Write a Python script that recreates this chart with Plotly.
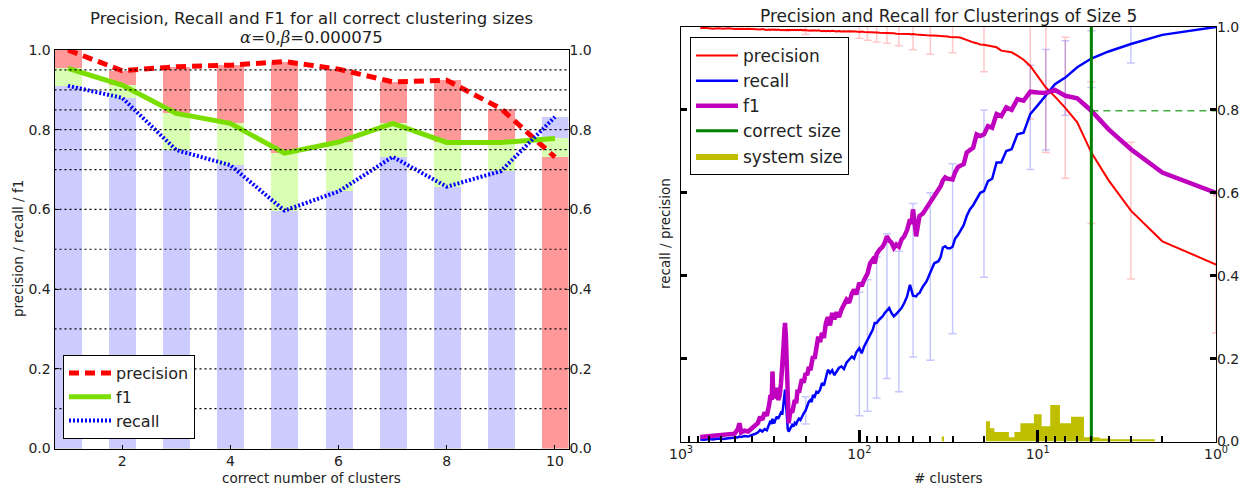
import plotly.graph_objects as go

# ---------------- Left chart data ----------------
K = [1, 2, 3, 4, 5, 6, 7, 8, 9, 10]
PREC_K = [1.000, 0.948, 0.958, 0.962, 0.971, 0.952, 0.920, 0.924, 0.853, 0.731]
F1_K = [0.954, 0.912, 0.841, 0.816, 0.741, 0.769, 0.816, 0.768, 0.768, 0.778]
REC_K = [0.910, 0.880, 0.749, 0.711, 0.597, 0.645, 0.732, 0.657, 0.696, 0.832]
GRID = [0.1, 0.2, 0.3, 0.4, 0.5, 0.6, 0.7, 0.75, 0.8, 0.85, 0.9, 0.95]
Y_TICKS = [0.0, 0.2, 0.4, 0.6, 0.8, 1.0]
K_TICKS = [2, 4, 6, 8, 10]

# ---------------- Right chart data ----------------
N_CLUSTERS = [780, 740, 700, 660, 620, 580, 540, 500, 480, 470, 460, 440, 420, 400, 385, 370,
              360, 350, 340, 330, 320, 315, 310, 307, 304, 300, 296, 290, 285, 280, 275, 270,
              266, 263, 261, 258, 255, 252, 249, 246, 242, 238, 234, 230, 226, 222, 218, 214,
              210, 205, 200, 196, 192, 188, 185, 182, 178, 174, 170, 166, 162, 158, 154, 150,
              146, 142, 138, 134, 130, 126, 122, 118, 114, 110, 107, 104, 100, 97, 94, 90,
              87, 84, 82, 80, 77, 74, 72, 70, 68, 66, 64, 62, 60, 58, 56, 54,
              52, 51, 50, 48, 47, 46, 44, 42, 40, 38, 36, 35, 34, 33, 32, 31,
              30, 29, 28, 27, 26, 25, 24, 23, 22, 21, 20, 19, 18, 17, 16, 15,
              14, 13, 12, 11, 10, 9, 8, 7, 6, 5, 4, 3, 2, 1]
PRECISION = [0.997, 0.998, 0.997, 0.996, 0.997, 0.996, 0.997, 0.995, 0.996, 0.995, 0.996, 0.995, 0.996, 0.995, 0.994, 0.995,
             0.994, 0.995, 0.994, 0.993, 0.994, 0.993, 0.994, 0.993, 0.994, 0.993, 0.994, 0.993, 0.994, 0.993, 0.992, 0.993,
             0.992, 0.993, 0.992, 0.993, 0.992, 0.993, 0.992, 0.993, 0.992, 0.993, 0.992, 0.993, 0.992, 0.993, 0.992, 0.993,
             0.992, 0.993, 0.992, 0.991, 0.992, 0.991, 0.992, 0.991, 0.992, 0.991, 0.992, 0.991, 0.990, 0.991, 0.990, 0.991,
             0.990, 0.991, 0.990, 0.989, 0.990, 0.989, 0.990, 0.989, 0.990, 0.989, 0.988, 0.989, 0.988, 0.989, 0.988, 0.988,
             0.987, 0.988, 0.987, 0.987, 0.986, 0.986, 0.985, 0.986, 0.985, 0.985, 0.985, 0.984, 0.984, 0.984, 0.983, 0.983,
             0.983, 0.982, 0.983, 0.982, 0.982, 0.981, 0.981, 0.980, 0.980, 0.979, 0.979, 0.978, 0.978, 0.977, 0.977, 0.976,
             0.976, 0.975, 0.975, 0.974, 0.971, 0.968, 0.966, 0.963, 0.961, 0.958, 0.957, 0.955, 0.952, 0.951, 0.943, 0.941,
             0.939, 0.931, 0.921, 0.906, 0.882, 0.854, 0.832, 0.805, 0.770, 0.697, 0.630, 0.557, 0.483, 0.427]
RECALL = [0.005, 0.004, 0.006, 0.005, 0.007, 0.006, 0.008, 0.009, 0.010, 0.012, 0.011, 0.013, 0.012, 0.016, 0.018, 0.022,
          0.028, 0.024, 0.030, 0.027, 0.040, 0.050, 0.042, 0.055, 0.048, 0.044, 0.052, 0.060, 0.055, 0.065, 0.070, 0.068,
          0.090, 0.110, 0.125, 0.095, 0.060, 0.030, 0.024, 0.030, 0.034, 0.040, 0.036, 0.045, 0.042, 0.050, 0.055, 0.052,
          0.060, 0.068, 0.075, 0.085, 0.096, 0.100, 0.095, 0.112, 0.108, 0.120, 0.118, 0.125, 0.141, 0.135, 0.155, 0.173,
          0.165, 0.172, 0.160, 0.170, 0.178, 0.181, 0.175, 0.190, 0.197, 0.205, 0.200, 0.215, 0.225, 0.213, 0.229, 0.245,
          0.255, 0.270, 0.286, 0.286, 0.295, 0.302, 0.310, 0.315, 0.322, 0.310, 0.302, 0.308, 0.314, 0.322, 0.334, 0.350,
          0.378, 0.362, 0.352, 0.350, 0.356, 0.358, 0.374, 0.386, 0.407, 0.430, 0.435, 0.445, 0.468, 0.471, 0.466, 0.466,
          0.470, 0.490, 0.498, 0.510, 0.522, 0.544, 0.560, 0.570, 0.584, 0.600, 0.604, 0.628, 0.634, 0.673, 0.673, 0.701,
          0.705, 0.741, 0.745, 0.790, 0.811, 0.836, 0.862, 0.878, 0.903, 0.924, 0.941, 0.959, 0.981, 1.000]
F1 = [0.011, 0.012, 0.013, 0.012, 0.015, 0.014, 0.017, 0.019, 0.030, 0.044, 0.022, 0.026, 0.024, 0.032, 0.036, 0.045,
      0.060, 0.052, 0.070, 0.062, 0.090, 0.112, 0.100, 0.169, 0.120, 0.125, 0.104, 0.130, 0.100, 0.110, 0.140, 0.180,
      0.230, 0.270, 0.286, 0.250, 0.150, 0.070, 0.044, 0.060, 0.075, 0.070, 0.084, 0.100, 0.092, 0.125, 0.118, 0.135,
      0.150, 0.142, 0.165, 0.160, 0.180, 0.172, 0.197, 0.205, 0.200, 0.225, 0.253, 0.240, 0.262, 0.250, 0.286, 0.300,
      0.280, 0.310, 0.295, 0.312, 0.300, 0.318, 0.330, 0.342, 0.335, 0.358, 0.366, 0.355, 0.383, 0.375, 0.390, 0.405,
      0.430, 0.439, 0.430, 0.452, 0.463, 0.470, 0.480, 0.495, 0.485, 0.480, 0.467, 0.475, 0.470, 0.487, 0.495, 0.510,
      0.536, 0.525, 0.560, 0.495, 0.520, 0.544, 0.550, 0.564, 0.580, 0.592, 0.610, 0.616, 0.630, 0.637, 0.634, 0.632,
      0.632, 0.650, 0.662, 0.666, 0.669, 0.697, 0.703, 0.709, 0.741, 0.737, 0.741, 0.761, 0.757, 0.790, 0.785, 0.806,
      0.800, 0.826, 0.822, 0.844, 0.842, 0.841, 0.848, 0.834, 0.828, 0.798, 0.753, 0.705, 0.649, 0.600]

ERR_AT = [200, 100, 90, 80, 70, 60, 50, 40, 30, 20, 11, 9, 7, 5, 3, 1]
PREC_ERR = [0.010, 0.015, 0.020, 0.023, 0.025, 0.029, 0.038, 0.046, 0.038, 0.065, 0.128, 0.157, 0.170, 0.171, 0.165, 0.165]
REC_ERR_PLUS = [0.033, 0.135, 0.145, 0.159, 0.186, 0.145, 0.222, 0.193, 0.200, 0.196, 0.118, 0.110, 0.089, 0.067, 0.046, 0.0]
REC_ERR_MINUS = [0.033, 0.163, 0.172, 0.181, 0.163, 0.194, 0.148, 0.211, 0.210, 0.208, 0.134, 0.133, 0.091, 0.070, 0.046, 0.0]

HIST_EDGES = [34.5, 33.5, 19.5, 18.5, 17.5, 14.5, 13.5, 12.5, 10.5, 9.5, 8.5, 7.5, 6.5, 5.5, 4.5, 3.9, 2.2]
HIST_HEIGHTS = [0.012, 0.0, 0.049, 0.032, 0.023, 0.010, 0.023, 0.044, 0.066, 0.037, 0.088, 0.044, 0.060, 0.010, 0.007, 0.0056]

CORRECT_SIZE = 5
LOG_MAJOR = [1000, 100, 10, 1]
LOG_MAJOR_TEXT = ["10<sup>3</sup>", "10<sup>2</sup>", "10<sup>1</sup>", "10<sup>0</sup>"]
LOG_MINOR = [m * d for d in (1, 10, 100) for m in range(2, 10)]

# ---------------- styles ----------------
C_PREC_BAR = "rgb(255,153,153)"
C_F1_BAR = "rgb(216,255,178)"
C_REC_BAR = "rgb(204,204,255)"
FONT = "DejaVu Sans"
W, H = 1253, 490


def px_x(p):
    return p / W


def px_y(p):
    return 1 - p / H


fig = go.Figure()

# ---- left: layered bars (tallest behind, shortest in front) ----
layers = []
for i in range(len(K)):
    items = [(PREC_K[i], C_PREC_BAR), (F1_K[i], C_F1_BAR), (REC_K[i], C_REC_BAR)]
    items.sort(key=lambda t: -t[0])
    layers.append(items)
for lv in range(3):
    fig.add_trace(go.Bar(
        x=K, y=[layers[i][lv][0] for i in range(len(K))],
        marker=dict(color=[layers[i][lv][1] for i in range(len(K))], line=dict(width=0)),
        width=0.5, xaxis="x", yaxis="y", showlegend=False, hoverinfo="skip"))

fig.add_trace(go.Scatter(x=K, y=PREC_K, mode="lines", name="precision",
                         line=dict(color="#FF0000", width=5, dash="10px,6px"),
                         xaxis="x", yaxis="y2", legend="legend", legendrank=1))
fig.add_trace(go.Scatter(x=K, y=F1_K, mode="lines", name="f1",
                         line=dict(color="#7ADF00", width=5),
                         xaxis="x", yaxis="y2", legend="legend", legendrank=2))
fig.add_trace(go.Scatter(x=K, y=REC_K, mode="lines", name="recall",
                         line=dict(color="#0000FF", width=4, dash="2px,2px"),
                         xaxis="x", yaxis="y2", legend="legend", legendrank=3))

# ---- right ----
hist_y = HIST_HEIGHTS + [HIST_HEIGHTS[-1]]
fig.add_trace(go.Scatter(x=HIST_EDGES, y=hist_y, mode="lines", name="system size",
                         line=dict(width=0, shape="hv", color="#BFBF00"),
                         fill="tozeroy", fillcolor="#BFBF00",
                         xaxis="x2", yaxis="y3", legend="legend2", legendrank=5))

pmap = dict(zip(N_CLUSTERS, PRECISION))
rmap = dict(zip(N_CLUSTERS, RECALL))
fmap = dict(zip(N_CLUSTERS, F1))
fig.add_trace(go.Scatter(x=ERR_AT, y=[pmap[v] for v in ERR_AT], mode="markers",
                         marker=dict(color="rgba(0,0,0,0)", size=2),
                         error_y=dict(type="data", array=PREC_ERR, color="rgba(255,0,0,0.22)",
                                      thickness=1.5, width=4),
                         xaxis="x2", yaxis="y3", showlegend=False, hoverinfo="skip"))
fig.add_trace(go.Scatter(x=ERR_AT, y=[rmap[v] for v in ERR_AT], mode="markers",
                         marker=dict(color="rgba(0,0,0,0)", size=2),
                         error_y=dict(type="data", symmetric=False, array=REC_ERR_PLUS,
                                      arrayminus=REC_ERR_MINUS, color="rgba(0,0,255,0.22)",
                                      thickness=1.5, width=4),
                         xaxis="x2", yaxis="y3", showlegend=False, hoverinfo="skip"))

fig.add_trace(go.Scatter(x=N_CLUSTERS, y=PRECISION, mode="lines", name="precision",
                         line=dict(color="#FF0000", width=2),
                         xaxis="x2", yaxis="y4", legend="legend2", legendrank=1))
fig.add_trace(go.Scatter(x=N_CLUSTERS, y=RECALL, mode="lines", name="recall",
                         line=dict(color="#0000FF", width=2.5),
                         xaxis="x2", yaxis="y4", legend="legend2", legendrank=2))
fig.add_trace(go.Scatter(x=N_CLUSTERS, y=F1, mode="lines", name="f1",
                         line=dict(color="#BF00BF", width=4.5),
                         xaxis="x2", yaxis="y4", legend="legend2", legendrank=3))
fig.add_trace(go.Scatter(x=[CORRECT_SIZE, CORRECT_SIZE], y=[0, 1], mode="lines", name="correct size",
                         line=dict(color="#008000", width=3),
                         xaxis="x2", yaxis="y4", legend="legend2", legendrank=4))
fig.add_trace(go.Scatter(x=[CORRECT_SIZE, min(N_CLUSTERS)], y=[fmap[CORRECT_SIZE]] * 2, mode="lines",
                         line=dict(color="rgba(0,150,0,0.75)", width=1.5, dash="7px,5px"),
                         xaxis="x2", yaxis="y4", showlegend=False, hoverinfo="skip"))

# ---- gridlines on left chart ----
shapes = [dict(type="line", xref="x domain", yref="y", x0=0, x1=1, y0=g, y1=g,
               line=dict(color="black", width=1.2, dash="2px,3px"), layer="above") for g in GRID]

TICKFONT = dict(size=14, color="#222")
axis_common = dict(showline=True, linecolor="black", linewidth=1, showgrid=False, zeroline=False,
                   tickfont=TICKFONT, tickcolor="black", automargin=False)

fig.update_layout(
    width=W, height=H, margin=dict(l=0, r=0, t=0, b=0, autoexpand=False),
    paper_bgcolor="white", plot_bgcolor="white",
    font=dict(family=FONT, size=13, color="#222"),
    barmode="overlay", bargap=0, shapes=shapes,
    xaxis=dict(domain=[px_x(54.5), px_x(568.5)], range=[0.75, 10.25], tickvals=K_TICKS,
               ticks="inside", ticklen=4, mirror=True, anchor="y", **axis_common),
    yaxis=dict(domain=[px_y(448.5), px_y(50)], range=[0, 1], tickvals=Y_TICKS, tickformat=".1f",
               ticks="inside", ticklen=4, mirror=True, anchor="x", **axis_common),
    yaxis2=dict(overlaying="y", side="right", anchor="x", range=[0, 1], tickvals=Y_TICKS,
                tickformat=".1f", ticks="inside", ticklen=4, showgrid=False, zeroline=False,
                showline=False, tickfont=TICKFONT, automargin=False),
    xaxis2=dict(domain=[px_x(681), px_x(1216)], type="log", range=[3, 0], tickvals=LOG_MAJOR,
                ticktext=LOG_MAJOR_TEXT, ticks="inside", ticklen=12, tickwidth=3, mirror=True,
                anchor="y3",
                minor=dict(tickvals=LOG_MINOR, ticks="inside", ticklen=6, tickwidth=2,
                           tickcolor="black", showgrid=False),
                **axis_common),
    yaxis3=dict(domain=[px_y(441.5), px_y(27)], range=[0, 1], tickvals=Y_TICKS, showticklabels=False,
                ticks="inside", ticklen=6, tickwidth=3, mirror=True, anchor="x2", **axis_common),
    yaxis4=dict(overlaying="y3", side="right", anchor="x2", range=[0, 1], tickvals=Y_TICKS,
                tickformat=".1f", ticks="inside", ticklen=6, tickwidth=3, tickcolor="black",
                showgrid=False, zeroline=False, showline=False, tickfont=TICKFONT, automargin=False),
    legend=dict(x=px_x(63), y=px_y(439), xanchor="left", yanchor="bottom",
                bgcolor="white", bordercolor="black", borderwidth=1, itemwidth=42,
                font=dict(size=16, family=FONT, color="#222"), traceorder="normal"),
    legend2=dict(x=px_x(690), y=px_y(37), xanchor="left", yanchor="top",
                 bgcolor="white", bordercolor="black", borderwidth=1, itemwidth=42,
                 font=dict(size=17, family=FONT, color="#222"), traceorder="normal"),
    annotations=[
        dict(text="Precision, Recall and F1 for all correct clustering sizes", x=px_x(311.5), y=px_y(18),
             xref="paper", yref="paper", showarrow=False, font=dict(size=16.5), xanchor="center", yanchor="middle"),
        dict(text='<span style="font-family:DejaVu Serif"><i>α</i>=0,<i>β</i></span>=0.000075',
             x=px_x(311.5), y=px_y(37), xref="paper", yref="paper", showarrow=False,
             font=dict(size=16.5), xanchor="center", yanchor="middle"),
        dict(text="Precision and Recall for Clusterings of Size 5", x=px_x(948.5), y=px_y(16),
             xref="paper", yref="paper", showarrow=False, font=dict(size=17), xanchor="center", yanchor="middle"),
        dict(text="correct number of clusters", x=px_x(311.5), y=px_y(478), xref="paper", yref="paper",
             showarrow=False, font=dict(size=13.5), xanchor="center", yanchor="middle"),
        dict(text="precision / recall / f1", x=px_x(18), y=px_y(249), xref="paper", yref="paper",
             showarrow=False, font=dict(size=13.5), textangle=-90, xanchor="center", yanchor="middle"),
        dict(text="# clusters", x=px_x(948.5), y=px_y(478), xref="paper", yref="paper",
             showarrow=False, font=dict(size=13.5), xanchor="center", yanchor="middle"),
        dict(text="recall / precision", x=px_x(665), y=px_y(234), xref="paper", yref="paper",
             showarrow=False, font=dict(size=13.5), textangle=-90, xanchor="center", yanchor="middle"),
    ],
)

fig.write_html("out.html", config={"displayModeBar": False},
               post_script="document.body.style.margin='0px';document.body.style.overflow='hidden';")
